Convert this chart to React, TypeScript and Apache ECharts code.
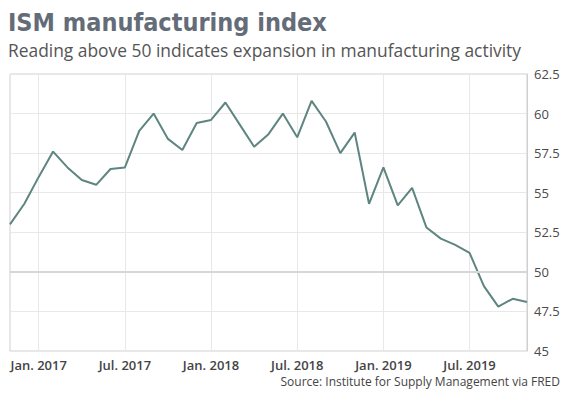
import React, { useEffect, useRef } from "react";
import * as echarts from "echarts";

const months: string[] = [
  "Nov. 2016", "Dec. 2016",
  "Jan. 2017", "Feb. 2017", "Mar. 2017", "Apr. 2017", "May 2017", "Jun. 2017",
  "Jul. 2017", "Aug. 2017", "Sep. 2017", "Oct. 2017", "Nov. 2017", "Dec. 2017",
  "Jan. 2018", "Feb. 2018", "Mar. 2018", "Apr. 2018", "May 2018", "Jun. 2018",
  "Jul. 2018", "Aug. 2018", "Sep. 2018", "Oct. 2018", "Nov. 2018", "Dec. 2018",
  "Jan. 2019", "Feb. 2019", "Mar. 2019", "Apr. 2019", "May 2019", "Jun. 2019",
  "Jul. 2019", "Aug. 2019", "Sep. 2019", "Oct. 2019", "Nov. 2019",
];

const ismValues: number[] = [
  53.0, 54.3,
  56.0, 57.6, 56.6, 55.8, 55.5, 56.5,
  56.6, 58.9, 60.0, 58.4, 57.7, 59.4,
  59.6, 60.7, 59.3, 57.9, 58.7, 60.0,
  58.5, 60.8, 59.5, 57.5, 58.8, 54.3,
  56.6, 54.2, 55.3, 52.8, 52.1, 51.7,
  51.2, 49.1, 47.8, 48.3, 48.1,
];

const tickMonths: string[] = ["Jan. 2017", "Jul. 2017", "Jan. 2018", "Jul. 2018", "Jan. 2019", "Jul. 2019"];
const yTicks: number[] = [45, 47.5, 50, 52.5, 55, 57.5, 60, 62.5];

const TITLE = "ISM manufacturing index";
const SUBTITLE = "Reading above 50 indicates expansion in manufacturing activity";
const SOURCE = "Source: Institute for Supply Management via FRED";

export default function App() {
  const ref = useRef<HTMLDivElement>(null);
  useEffect(() => {
    if (!ref.current) return;
    const chart = echarts.init(ref.current, undefined, { renderer: "svg" });
    const isTick = (i: number) => tickMonths.includes(months[i]);
    chart.setOption({
      animation: false,
      backgroundColor: "#ffffff",
      grid: {
        left: 10,
        right: 42,
        top: 74,
        bottom: 46,
        show: true,
        borderColor: "#cfcfcf",
        borderWidth: 1,
      },
      graphic: [
        {
          type: "text",
          left: 8,
          top: 10,
          style: {
            text: TITLE,
            font: "bold 25px 'DejaVu Sans Condensed', 'Liberation Sans Narrow', Roboto, sans-serif",
            fill: "#646c78",
          },
        },
        {
          type: "text",
          left: 8,
          top: 41,
          style: {
            text: SUBTITLE,
            font: "17.4px 'Open Sans', sans-serif",
            fill: "#555555",
          },
        },
        {
          type: "text",
          right: 9,
          top: 375,
          style: {
            text: SOURCE,
            font: "12px 'Open Sans', sans-serif",
            fill: "#444444",
          },
        },
      ],
      xAxis: {
        type: "category",
        data: months,
        boundaryGap: false,
        axisLine: { show: false },
        axisTick: { show: false },
        axisLabel: {
          interval: (i: number) => isTick(i),
          color: "#444444",
          fontSize: 13,
          fontWeight: 600,
          fontFamily: "'Open Sans', sans-serif",
          margin: 7,
        },
        splitLine: {
          show: true,
          interval: (i: number) => isTick(i),
          lineStyle: { color: "#e8e8e8", width: 1 },
        },
      },
      yAxis: {
        type: "value",
        position: "right",
        min: yTicks[0],
        max: yTicks[yTicks.length - 1],
        interval: 2.5,
        axisLine: { show: true, lineStyle: { color: "#cfcfcf" } },
        axisTick: { show: false },
        axisLabel: {
          color: "#4a4a4a",
          fontSize: 13,
          fontFamily: "'Open Sans', sans-serif",
          margin: 7,
          formatter: (v: number) => String(v),
        },
        splitLine: { show: true, lineStyle: { color: "#e8e8e8", width: 1 } },
      },
      series: [
        {
          type: "line",
          data: ismValues,
          symbol: "none",
          lineStyle: { color: "#5e8580", width: 2 },
          markLine: {
            silent: true,
            symbol: "none",
            label: { show: false },
            lineStyle: { color: "#d6d6d6", width: 2, type: "solid" },
            data: [{ yAxis: 50 }],
          },
          z: 3,
        },
      ],
    });
    return () => chart.dispose();
  }, []);
  return <div ref={ref} style={{ width: 569, height: 397, position: "absolute", left: 0, top: 0 }} />;
}
